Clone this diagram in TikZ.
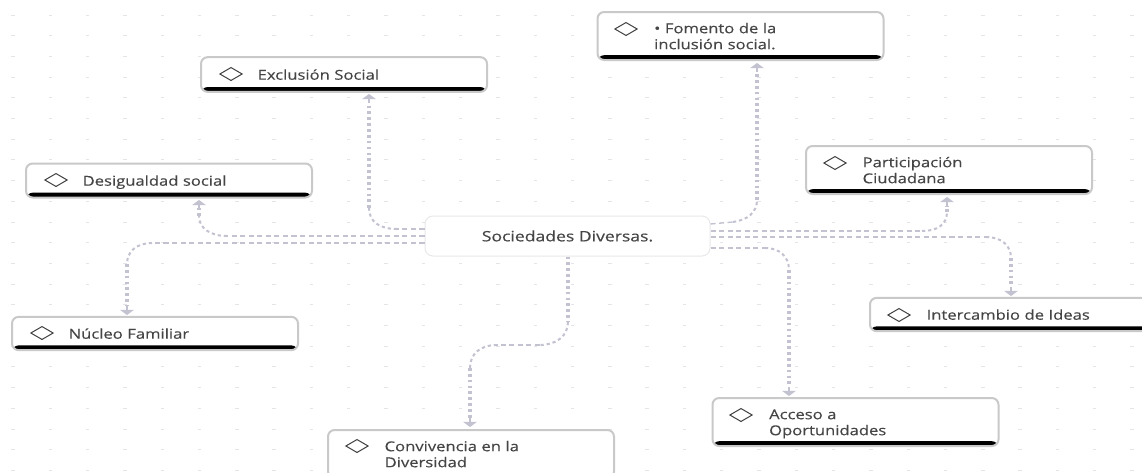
\documentclass[tikz,border=0pt]{standalone}
\usepackage{fontspec}
\setmainfont[FakeStretch=1.22,FakeBold=0.25]{Open Sans}
\usetikzlibrary{shapes.geometric,arrows.meta}
\definecolor{linec}{HTML}{C2C2D0}
\definecolor{dotc}{HTML}{E4E4E9}
\definecolor{boxb}{HTML}{C9C9C9}
\definecolor{txt}{HTML}{454545}
\tikzset{
  x=0.75pt,y=-0.75pt,
  idea/.style={rectangle,rounded corners=5pt,draw=boxb,line width=1.5pt,fill=white,
    minimum width=214.5pt,text width=214.5pt,inner xsep=0pt,inner ysep=0pt,text=txt,font=\fontsize{10.2}{12}\selectfont,
    path picture={\fill[black] ([yshift=3.6pt]path picture bounding box.south west) rectangle (path picture bounding box.south east);}},
  mark diamond/.style={diamond,draw=black!75,line width=0.75pt,fill=white,minimum width=17pt,minimum height=10pt,aspect=1.7,inner sep=0pt},
  hseg/.style={linec,line width=1pt,dash pattern=on 3.8pt off 2.6pt},
  cseg/.style={linec,line width=1.5pt,dash pattern=on 2.4pt off 2.2pt},
  vseg/.style={linec,line width=2.4pt,dash pattern=on 2pt off 2.4pt},
  tip/.style={-{Triangle[length=3.8pt,width=10pt]}}
}
\newcommand\ideatext[1]{\hspace*{42.5pt}\raisebox{-4pt}[0pt][0pt]{\parbox[c]{165pt}{\raggedright\strut #1\strut}}}
\begin{document}
\begin{tikzpicture}
\useasboundingbox (0,0) rectangle (1142,472);
\clip (0,0) rectangle (1142,472);
\fill[white] (0,0) rectangle (1142,472);
\foreach \i in {0,...,30}{\foreach \j in {0,...,22}{
  \fill[dotc] ({13+37.3*\i-1.7},{15+20.7*\j-0.5}) rectangle ({13+37.3*\i+1.7},{15+20.7*\j+0.5});}}

\node[idea,minimum height=36pt] (fom) at (740.5,36) {\ideatext{• Fomento de la\\[0pt]inclusión social.}};
\node[idea,minimum height=26pt] (exc) at (344,74.5) {\ideatext{Exclusión Social}};
\node[idea,minimum height=25.5pt] (des) at (169,180.5) {\ideatext{Desigualdad social}};
\node[idea,minimum height=25pt] (nuc) at (155,333.5) {\ideatext{Núcleo Familiar}};
\node[idea,minimum height=36pt] (par) at (949,170) {\ideatext{Participación\\[0pt]Ciudadana}};
\node[idea,minimum height=25pt] (int) at (1013,314.5) {\ideatext{Intercambio de Ideas}};
\node[idea,minimum height=36pt] (acc) at (855.5,422) {\ideatext{Acceso a\\[0pt]Oportunidades}};
\node[idea,minimum height=36pt] (con) at (471,454) {\ideatext{Convivencia en la\\[0pt]Diversidad}};
\node[rectangle,rounded corners=6pt,draw=black!9,line width=0.75pt,fill=white,minimum width=213.75pt,minimum height=30pt,text=txt,font=\fontsize{10.8}{12}\selectfont] (cen) at (567.5,236) {Sociedades Diversas.};

\node[mark diamond] (dfom) at (626,29) {};
\node[mark diamond] (dexc) at (231,74) {};
\node[mark diamond] (ddes) at (56,180) {};
\node[mark diamond] (dnuc) at (42,333) {};
\node[mark diamond] (dpar) at (835,163) {};
\node[mark diamond] (dint) at (899,315) {};
\node[mark diamond] (dacc) at (741,415) {};
\node[mark diamond] (dcon) at (357,446) {};

% Exclusion
\coordinate (a0) at (cen.west |- 0,229); \coordinate (a1) at (397,229); \coordinate (a2) at (369,208);
\draw[hseg] (a0) -- (a1);
\draw[cseg] (a1) .. controls (380,229) and (369,222) .. (a2);
\draw[vseg] (a2) -- (369,103);
\draw[linec,line width=1pt,tip] (369,103) -- (369,94);
% Desigualdad
\coordinate (b0) at (cen.west |- 0,236); \coordinate (b1) at (227,236); \coordinate (b2) at (199,216);
\draw[hseg] (b0) -- (b1);
\draw[cseg] (b1) .. controls (210,236) and (199,228) .. (b2);
\draw[vseg] (b2) -- (199,208);
\draw[linec,line width=1pt,tip] (199,208) -- (199,200);
% Nucleo
\coordinate (c0) at (cen.west |- 0,243); \coordinate (c1) at (152,243); \coordinate (c2) at (127,264);
\draw[hseg] (c0) -- (c1);
\draw[cseg] (c1) .. controls (136,243) and (127,252) .. (c2);
\draw[vseg] (c2) -- (127,306);
\draw[linec,line width=1pt,tip] (127,306) -- (127,315);
% Fomento
\coordinate (d0) at (cen.east |- 0,224); \coordinate (d1) at (733,222); \coordinate (d2) at (757,200);
\draw[hseg] (d0) -- (d1);
\draw[cseg] (d1) .. controls (748,220) and (757,212) .. (d2);
\draw[vseg] (d2) -- (757,72);
\draw[linec,line width=1pt,tip] (757,72) -- (757,63);
% Participacion
\coordinate (e0) at (cen.east |- 0,231); \coordinate (e1) at (922,231); \coordinate (e2) at (947,212);
\draw[hseg] (e0) -- (e1);
\draw[cseg] (e1) .. controls (938,231) and (947,224) .. (e2);
\draw[vseg] (e2) -- (947,206);
\draw[linec,line width=1pt,tip] (947,206) -- (947,197);
% Intercambio
\coordinate (f0) at (cen.east |- 0,237); \coordinate (f1) at (986,237); \coordinate (f2) at (1011,258);
\draw[hseg] (f0) -- (f1);
\draw[cseg] (f1) .. controls (1002,237) and (1011,246) .. (f2);
\draw[vseg] (f2) -- (1011,287);
\draw[linec,line width=1pt,tip] (1011,287) -- (1011,296);
% Acceso
\coordinate (g0) at (cen.east |- 0,248); \coordinate (g1) at (765,248); \coordinate (g2) at (789,270);
\draw[hseg] (g0) -- (g1);
\draw[cseg] (g1) .. controls (780,248) and (789,257) .. (g2);
\draw[vseg] (g2) -- (789,387);
\draw[linec,line width=1pt,tip] (789,387) -- (789,396);
% Convivencia
\coordinate (h0) at (cen.south -| 568,0); \coordinate (h1) at (568,322); \coordinate (h2) at (540,345);
\coordinate (h3) at (497,345); \coordinate (h4) at (470,368);
\draw[vseg] (h0) -- (h1);
\draw[cseg] (h1) .. controls (568,336) and (556,345) .. (h2);
\draw[hseg] (h2) -- (h3);
\draw[cseg] (h3) .. controls (480,345) and (470,354) .. (h4);
\draw[vseg] (h4) -- (470,418);
\draw[linec,line width=1pt,tip] (470,418) -- (470,427);
\end{tikzpicture}
\end{document}
